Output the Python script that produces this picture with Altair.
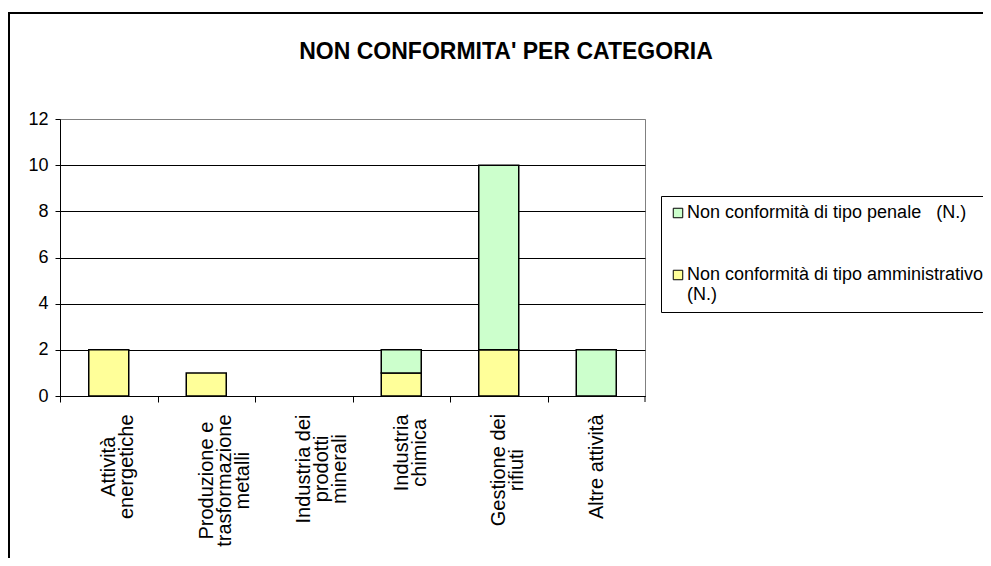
import altair as alt
import pandas as pd

# ---- data ----
categories = [
    "Attività energetiche",
    "Produzione e trasformazione metalli",
    "Industria dei prodotti minerali",
    "Industria chimica",
    "Gestione dei rifiuti",
    "Altre attività",
]
category_lines = [
    ["Attività", "energetiche"],
    ["Produzione e", "trasformazione", "metalli"],
    ["Industria dei", "prodotti", "minerali"],
    ["Industria", "chimica"],
    ["Gestione dei", "rifiuti"],
    ["Altre attività"],
]
series = ["Non conformità di tipo penale   (N.)", "Non conformità di tipo amministrativo (N.)"]
penale = [0, 0, 0, 1, 8, 2]
amministrativo = [2, 1, 0, 1, 2, 0]
y_ticks = [0, 2, 4, 6, 8, 10, 12]
title_text = "NON CONFORMITA' PER CATEGORIA"

colors = ["#CCFFCC", "#FFFF99"]
FONT = "Liberation Sans"

rows = []
for c, a, p in zip(categories, amministrativo, penale):
    if a:
        rows.append({"cat": c, "serie": series[1], "n": a, "ord": 0})
    if p:
        rows.append({"cat": c, "serie": series[0], "n": p, "ord": 1})
df = pd.DataFrame(rows)

W, H = 585, 277
step = W / len(categories)
bar_w = 40
pad_inner = 1 - bar_w / step

# approximate Arial advance widths (em) for centring rotated multi-line labels
AW = {"A": .667, "P": .667, "I": .278, "G": .722, " ": .278, "a": .556, "b": .556,
      "c": .5, "d": .556, "e": .556, "f": .278, "g": .556, "h": .556, "i": .222,
      "l": .222, "m": .833, "n": .556, "o": .556, "p": .556, "r": .333, "s": .5,
      "t": .278, "u": .556, "v": .5, "z": .5, "à": .556}
XFS = 20
def text_len(s):
    return sum(AW.get(ch, .556) for ch in s) * XFS

label_expr = ""
conds = []
for c, lines in zip(categories, category_lines):
    arr = "[" + ",".join("'" + l.replace("'", "\\'") + "'" for l in lines) + "]"
    label_expr += f"datum.value == '{c}' ? {arr} : "
    longest = max(text_len(l) for l in lines)
    conds.append({"test": f"datum.value == '{c}'", "value": 12 + longest / 2})
label_expr += "datum.label"

legend_expr = (
    f"datum.label == '{series[1]}' ? ['Non conformità di tipo amministrativo', '(N.)'] : "
    "replace(datum.label, /   /, '\u00a0\u00a0\u00a0')"
)

bars = alt.Chart(df).mark_bar(stroke="black", strokeWidth=1.5).encode(
    x=alt.X("cat:N", sort=categories, title=None,
            scale=alt.Scale(domain=categories, paddingInner=pad_inner, paddingOuter=pad_inner / 2),
            axis=alt.Axis(labelAngle=270, labelAlign="center", labelBaseline="middle",
                          labelExpr=label_expr, labelFont=FONT, labelFontSize=XFS,
                          labelLineHeight=18, labelColor="black", labelLimit=400,
                          labelPadding={"condition": conds, "value": 30},
                          tickOffset=-step / 2, labelOffset=step / 2,
                          tickSize=6, tickColor="black", domainColor="black",
                          labelOverlap=False, grid=False)),
    y=alt.Y("n:Q", stack="zero", title=None,
            scale=alt.Scale(domain=[0, 12], nice=False),
            axis=alt.Axis(values=y_ticks, labelFont=FONT, labelFontSize=18, labelColor="black",
                          tickSize=5, tickColor="black", domainColor="black", labelPadding=7,
                          grid=True,
                          gridColor={"condition": {"test": "datum.value == 12", "value": "#808080"},
                                     "value": "black"},
                          gridWidth=1)),
    color=alt.Color("serie:N", sort=series,
                    scale=alt.Scale(domain=series, range=colors),
                    legend=alt.Legend(title=None, orient="none", legendX=601, legendY=77,
                                      strokeColor="black", padding=8, fillColor="white",
                                      symbolType="square", symbolSize=90,
                                      symbolStrokeColor="black", symbolStrokeWidth=1,
                                      labelFont=FONT, labelFontSize=18, labelColor="black",
                                      labelLimit=600, labelOffset=0, rowPadding=44,
                                      labelExpr=legend_expr)),
    order=alt.Order("ord:Q"),
)

title = alt.Chart(pd.DataFrame({"t": [title_text]})).mark_text(
    font=FONT, fontSize=23, fontWeight="bold", color="black",
    align="center", baseline="alphabetic"
).encode(text="t:N", x=alt.value(446), y=alt.value(-60))

frame = alt.Chart(pd.DataFrame({"k": [0]})).mark_rect(
    filled=False, stroke="black", strokeWidth=2
).encode(x=alt.value(-51), x2=alt.value(2000), y=alt.value(-106), y2=alt.value(2000))

end_tick = alt.Chart(pd.DataFrame({"k": [0]})).mark_rule(color="black").encode(
    x=alt.value(W), y=alt.value(H), y2=alt.value(H + 6))

chart = alt.layer(bars, end_tick, frame, title).properties(
    width=W, height=H,
    autosize=alt.AutoSizeParams(type="none"),
    padding={"left": 52, "top": 111, "right": 338, "bottom": 162},
).configure_view(stroke="#808080", strokeWidth=1)

chart.save("out.html", embed_options={"renderer": "svg", "actions": False})
